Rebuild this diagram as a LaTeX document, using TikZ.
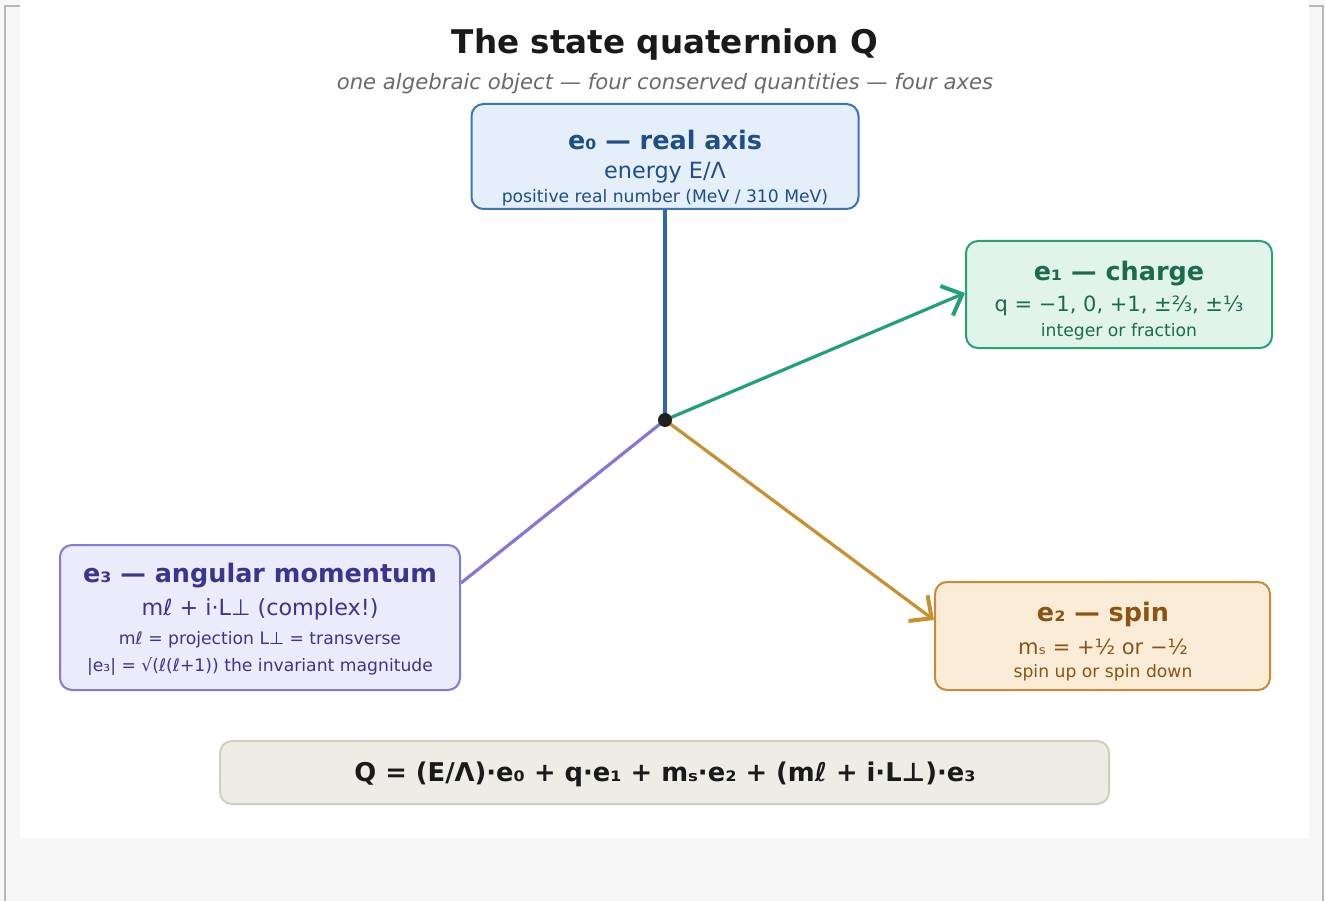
\documentclass[tikz,border=0pt]{standalone}
\usepackage{fontspec}
\setmainfont{DejaVu Sans}
\usetikzlibrary{arrows.meta}
\definecolor{pagebg}{HTML}{F7F7F7}
\definecolor{frameln}{HTML}{B8B8B8}
\definecolor{titlec}{HTML}{1A1A1A}
\definecolor{subc}{HTML}{6A6A6A}
\definecolor{bluefill}{HTML}{E4EFF9}
\definecolor{bluedraw}{HTML}{3D74B5}
\definecolor{bluetext}{HTML}{1F4E8A}
\definecolor{blueline}{HTML}{2F68A8}
\definecolor{greenfill}{HTML}{E0F4EC}
\definecolor{greendraw}{HTML}{2E9E74}
\definecolor{greentext}{HTML}{1D6B4F}
\definecolor{greenline}{HTML}{22A077}
\definecolor{orfill}{HTML}{FBECD8}
\definecolor{ordraw}{HTML}{C98C34}
\definecolor{ortext}{HTML}{8A5414}
\definecolor{orline}{HTML}{C8902F}
\definecolor{pufill}{HTML}{ECEBFB}
\definecolor{pudraw}{HTML}{8479D6}
\definecolor{putext}{HTML}{3B3590}
\definecolor{puline}{HTML}{8478D6}
\definecolor{fofill}{HTML}{EDEDE5}
\definecolor{fodraw}{HTML}{CFCFC0}
\definecolor{dotc}{HTML}{222222}
\begin{document}
\begin{tikzpicture}[x=1pt,y=-1pt,
  box/.style={rectangle, rounded corners=12pt, line width=2pt, inner sep=0pt},
  ttl/.style={font=\bfseries\fontsize{25.5}{30}\selectfont, inner sep=0pt},
  sec/.style={font=\fontsize{22.3}{26}\selectfont, inner sep=0pt},
  secs/.style={font=\fontsize{21}{25}\selectfont, inner sep=0pt},
  thd/.style={font=\fontsize{17.2}{21}\selectfont, inner sep=0pt},
  axis/.style={line width=3.2pt},
  arr/.style={line width=3.2pt, -{Straight Barb[length=17pt,width=32pt,line width=4pt]}}
]
\useasboundingbox (0,0) rectangle (1325,901);
\fill[pagebg] (0,0) rectangle (1325,901);
\draw[frameln, line width=1.2pt] (5,901) -- (5,6) -- (20,6);
\draw[frameln, line width=1.2pt] (1309,6) -- (1323,6) -- (1323,901);
\fill[white] (20,0) rectangle (1309,838);

% title
\node[font=\bfseries\fontsize{32.6}{38}\selectfont, text=titlec, inner sep=0pt] (title) at (665,45) {The state quaternion Q};
\node[font=\itshape\fontsize{21.2}{25}\selectfont, text=subc, inner sep=0pt] (subtitle) at (665,84) {one algebraic object — four conserved quantities — four axes};

% boxes
\node[box, draw=bluedraw, fill=bluefill, minimum width=387pt, minimum height=105pt] (e0) at (665,156.5) {};
\node[box, draw=greendraw, fill=greenfill, minimum width=306pt, minimum height=107pt] (e1) at (1119,294.5) {};
\node[box, draw=ordraw, fill=orfill, minimum width=335pt, minimum height=108pt] (e2) at (1102.5,636) {};
\node[box, draw=pudraw, fill=pufill, minimum width=400pt, minimum height=145pt] (e3) at (260,617.5) {};
\node[box, draw=fodraw, fill=fofill, minimum width=889pt, minimum height=63pt] (form) at (664.5,772.5) {};

% e0 text
\node[ttl, text=bluetext] (e0a) at (665,139.5) {e₀ — real axis};
\node[sec, text=bluetext] (e0b) at (665,173) {energy E/Λ};
\node[thd, text=bluetext] (e0c) at (665,198) {positive real number (MeV / 310 MeV)};

% e1 text
\node[ttl, text=greentext] (e1a) at (1119,274) {e₁ — charge};
\node[secs, text=greentext] (e1b) at (1119,306) {q = −1, 0, +1, ±⅔, ±⅓};
\node[thd, text=greentext] (e1c) at (1119,332) {integer or fraction};

% e2 text
\node[ttl, text=ortext] (e2a) at (1103,614) {e₂ — spin};
\node[secs, text=ortext] (e2b) at (1103,647) {mₛ = +½ or −½};
\node[thd, text=ortext] (e2c) at (1103,673) {spin up or spin down};

% e3 text
\node[ttl, text=putext] (e3a) at (260,576) {e₃ — angular momentum};
\node[sec, text=putext] (e3b) at (260,609) {mℓ + i·L⊥ (complex!)};
\node[thd, text=putext] (e3c) at (260,640) {mℓ = projection L⊥ = transverse};
\node[thd, text=putext] (e3d) at (260,667) {|e₃| = √(ℓ(ℓ+1)) the invariant magnitude};

% formula
\node[font=\bfseries\fontsize{25.8}{30}\selectfont, text=titlec, inner sep=0pt] (ftext) at (665,774) {Q = (E/Λ)·e₀ + q·e₁ + mₛ·e₂ + (mℓ + i·L⊥)·e₃};

% connectors
\coordinate (o) at (665,420);
\coordinate (e1in) at (965,293);
\coordinate (e2in) at (934,620);
\coordinate (e3in) at (461,583);
\draw[axis, blueline] (o) -- (e0.south);
\draw[arr, greenline] (o) -- (e1in);
\draw[arr, orline] (o) -- (e2in);
\draw[axis, puline] (o) -- (e3in);
\node[circle, fill=dotc, inner sep=0pt, minimum size=14pt] (dot) at (o) {};
\end{tikzpicture}
\end{document}
